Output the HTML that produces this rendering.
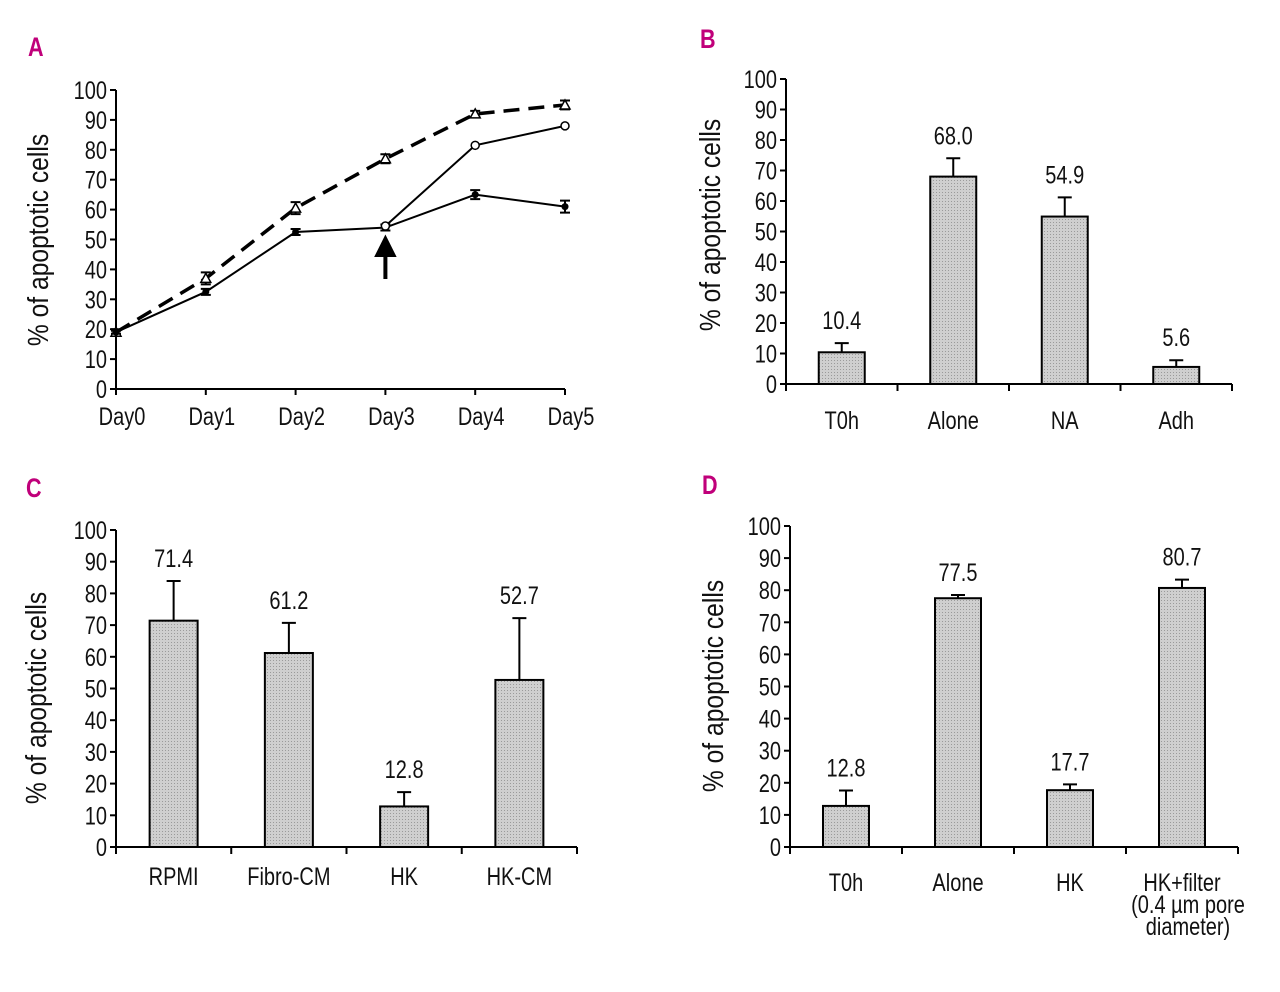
<!DOCTYPE html>
<html><head><meta charset="utf-8"><style>
body{margin:0;background:#fff}
svg text{font-family:"Liberation Sans Narrow","Liberation Sans",sans-serif;fill:#111}
</style></head><body>
<svg id="s" width="1280" height="987" xmlns="http://www.w3.org/2000/svg">
<defs><pattern id="dots" width="3" height="3" patternUnits="userSpaceOnUse"><rect width="3" height="3" fill="#cfcfcf"/><rect width="1" height="1" fill="#9a9a9a"/></pattern></defs>
</svg>
<script>
const daysA=["Day0","Day1","Day2","Day3","Day4","Day5"];
const aliveA=[19,32.5,52.5,54,65,61];
const aliveErrA=[0.5,1,1,1,1.5,2];
const treatedDaysA=[3,4,5];
const treatedA=[54.5,81.5,88];
const treatedErrA=[0.5,0.5,0.5];
const dashedA=[19,37,60.5,77,92,95];
const dashedErrA=[1,2,2,1.5,1,1.5];
const yTicks=[0,10,20,30,40,50,60,70,80,90,100];
const catsB=["T0h","Alone","NA","Adh"];
const valsB=[10.4,68.0,54.9,5.6];
const errB=[3,6,6.3,2.2];
const labelsB=["10.4","68.0","54.9","5.6"];
const catsC=["RPMI","Fibro-CM","HK","HK-CM"];
const valsC=[71.4,61.2,12.8,52.7];
const errC=[12.5,9.5,4.5,19.5];
const labelsC=["71.4","61.2","12.8","52.7"];
const catsD=["T0h","Alone","HK","HK+filter|(0.4 µm pore|diameter)"];
const valsD=[12.8,77.5,17.7,80.7];
const errD=[4.8,1,1.8,2.6];
const labelsD=["12.8","77.5","17.7","80.7"];

const S=document.getElementById('s');
const NS="http://www.w3.org/2000/svg";
function el(t,a,p){const e=document.createElementNS(NS,t);for(const k in a)e.setAttribute(k,a[k]);(p||S).appendChild(e);return e;}
function txt(x,y,s,size,anchor,p,rot,sc){const e=el('text',{x:0,y:0,'font-size':size,'text-anchor':anchor||'middle'},p);
  e.setAttribute('transform','translate('+x+','+y+')'+(rot?' rotate('+rot+')':'')+' scale('+(sc||0.8)+',1)');
  e.textContent=s;return e;}

function axes(g,x0,x1,y0,y1,label,lx,ly){
  const sy=v=>y0-(y0-y1)*v/100;
  const ax=el('line',{x1:x0,y1:y0,x2:x0,y2:y1,stroke:'#000','stroke-width':2},g);
  
  const bx=el('line',{x1:x0,y1:y0,x2:x1,y2:y0,stroke:'#000','stroke-width':2},g);
  
  yTicks.forEach(v=>{
    el('line',{x1:x0-6,x2:x0,y1:sy(v),y2:sy(v),stroke:'#000','stroke-width':2},g);
    const t=txt(x0-9,sy(v)+9,String(v),25,'end',g);
    
  });
  const t=txt(lx,ly,label,29,'middle',g,-90,0.85);
  
  return sy;
}
function letter(x,y,s){const t=txt(x,y,s,27,'start');t.setAttribute('font-weight','bold');t.style.fill='#c0007a';
  }

// Panel A
(function(){
  const g=el('g',{});
  const x0=116,x1=565,y0=389,y1=90;
  const sy=axes(g,x0,x1,y0,y1,'% of apoptotic cells',48,240);
  const sx=i=>x0+(x1-x0)*i/(daysA.length-1);
  daysA.forEach((d,i)=>{el('line',{x1:sx(i),x2:sx(i),y1:y0,y2:y0+6,stroke:'#000','stroke-width':2},g);
    const t=txt(sx(i)+6,y0+36,d,25,'middle',g);});
  function eb(x,v,e){el('path',{d:`M${x-5},${sy(v+e)}H${x+5}M${x},${sy(v+e)}V${sy(v-e)}M${x-5},${sy(v-e)}H${x+5}`,stroke:'#000','stroke-width':2,fill:'none'},g);}
  let p=el('polyline',{points:dashedA.map((v,i)=>sx(i)+','+sy(v)).join(' '),fill:'none',stroke:'#000','stroke-width':3.5,'stroke-dasharray':'16,9'},g);
  
  p=el('polyline',{points:aliveA.map((v,i)=>sx(i)+','+sy(v)).join(' '),fill:'none',stroke:'#000','stroke-width':2},g);
  
  p=el('polyline',{points:treatedA.map((v,i)=>sx(treatedDaysA[i])+','+sy(v)).join(' '),fill:'none',stroke:'#000','stroke-width':2},g);
  
  dashedA.forEach((v,i)=>{eb(sx(i),v,dashedErrA[i]);const x=sx(i),y=sy(v);
    const m=el('path',{d:`M${x},${y-5}L${x+5},${y+4}L${x-5},${y+4}Z`,fill:'#fff',stroke:'#000','stroke-width':1.5},g);
    });
  aliveA.forEach((v,i)=>{eb(sx(i),v,aliveErrA[i]);const m=el('circle',{cx:sx(i),cy:sy(v),r:3.5,fill:'#000'},g);
    });
  treatedA.forEach((v,i)=>{const m=el('circle',{cx:sx(treatedDaysA[i]),cy:sy(v),r:4,fill:'#fff',stroke:'#000','stroke-width':1.5},g);
    });
  const ax=sx(3);
  const ar=el('path',{d:`M${ax},${y0-110}V${y0-136}M${ax-8},${y0-134}L${ax},${y0-150}L${ax+8},${y0-134}Z`,stroke:'#000','stroke-width':4,fill:'#000'},g);
  
})();

function barPanel(name,x0,x1,y0,y1,cats,vals,errs,labels,lx,ly,bw,labOff){
  const g=el('g',{});
  const sy=axes(g,x0,x1,y0,y1,'% of apoptotic cells',lx,ly);
  const n=cats.length,w=(x1-x0)/n;
  for(let i=0;i<=n;i++)el('line',{x1:x0+w*i,x2:x0+w*i,y1:y0,y2:y0+7,stroke:'#000','stroke-width':2},g);
  cats.forEach((c,i)=>{
    const cx=x0+w*(i+0.5);
    el('path',{d:`M${cx},${sy(vals[i])}V${sy(vals[i]+errs[i])}M${cx-7},${sy(vals[i]+errs[i])}H${cx+7}`,stroke:'#000','stroke-width':2,fill:'none'},g);
    const b=el('rect',{x:cx-bw/2,y:sy(vals[i]),width:bw,height:y0-sy(vals[i]),fill:'url(#dots)',stroke:'#000','stroke-width':2},g);
    
    const t=txt(cx,sy(vals[i]+errs[i])-14,labels[i],25,'middle',g);
    
    c.split('|').forEach((ln,j)=>{const tt=txt(cx+(j?6:0),y0+labOff+j*22,ln,25,'middle',g);
      });
  });
}
barPanel('panel-b-bar-chart',786,1232,384,79,catsB,valsB,errB,labelsB,720,225,46,45);
barPanel('panel-c-bar-chart',116,577,847,530,catsC,valsC,errC,labelsC,46,698,48,38);
barPanel('panel-d-bar-chart',790,1238,847,526,catsD,valsD,errD,labelsD,723,686,46,44);
letter(28,56,'A');letter(700,48,'B');letter(26,497,'C');letter(702,494,'D');
</script>
</body></html>
